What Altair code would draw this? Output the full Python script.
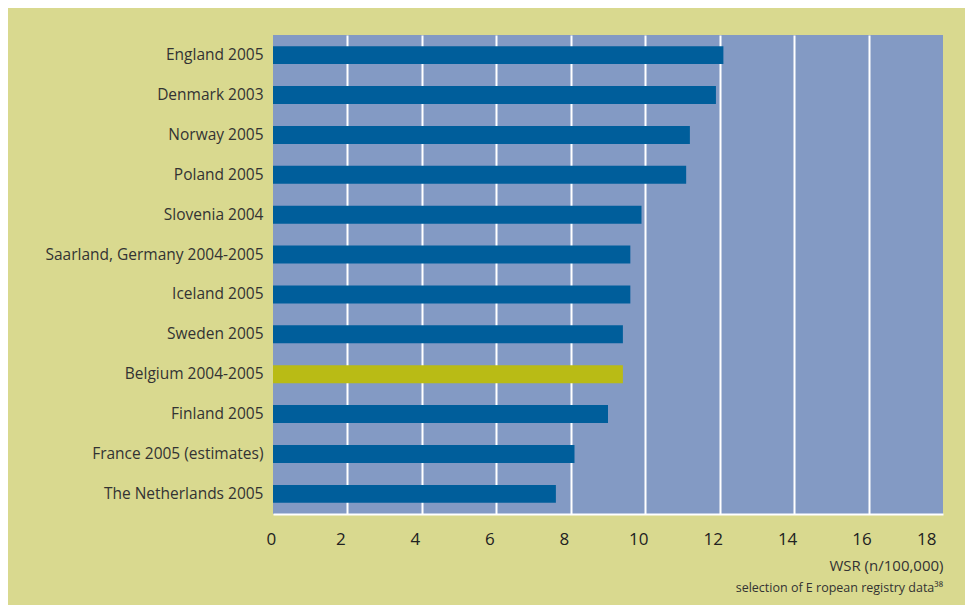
import altair as alt
import pandas as pd

countries = [
    "England 2005", "Denmark 2003", "Norway 2005", "Poland 2005", "Slovenia 2004",
    "Saarland, Germany 2004-2005", "Iceland 2005", "Sweden 2005", "Belgium 2004-2005",
    "Finland 2005", "France 2005 (estimates)", "The Netherlands 2005",
]
wsr = [12.1, 11.9, 11.2, 11.1, 9.9, 9.6, 9.6, 9.4, 9.4, 9.0, 8.1, 7.6]
highlight = ["Belgium 2004-2005"]
x_ticks = [0, 2, 4, 6, 8, 10, 12, 14, 16, 18]

df = pd.DataFrame({"country": countries, "wsr": wsr})
df["group"] = ["Belgium" if c in highlight else "Other" for c in countries]

FONT = "Open Sans"

chart = alt.Chart(df).mark_bar().encode(
    x=alt.X(
        "wsr:Q",
        scale=alt.Scale(domain=[0, 18], nice=False),
        axis=alt.Axis(
            values=x_ticks, title="WSR (n/100,000)", titleAnchor="end", titleAlign="right",
            titleFontWeight="normal", titleFontSize=15, titleColor="#333333", titleFont=FONT,
            titlePadding=11, labelFontSize=17, labelColor="#222222", labelFont=FONT,
            labelPadding=17, labelOffset=-7, ticks=False, domain=True, domainColor="#ffffff",
            domainWidth=2, grid=True, gridColor="#ffffff", gridWidth=2,
            gridOpacity=alt.condition("datum.value == 0 || datum.value == 18", alt.value(0), alt.value(1)),
        ),
    ),
    y=alt.Y(
        "country:N", sort=countries,
        scale=alt.Scale(paddingInner=0.55, paddingOuter=0.28),
        axis=alt.Axis(title=None, ticks=False, domain=False, labelFontSize=15.5, labelLimit=400,
                      labelColor="#333333", labelFont=FONT, labelPadding=10, grid=False),
    ),
    color=alt.Color("group:N", scale=alt.Scale(domain=["Other", "Belgium"],
                                               range=["#005E9B", "#B9BB15"]), legend=None),
).properties(
    width=670, height=479,
    title=alt.TitleParams("selection of E  ropean registry data\u00b3\u2078", orient="bottom",
                          anchor="end", fontSize=12.5, fontWeight="normal", color="#333333",
                          font=FONT, offset=9),
).configure(
    background="#D9D98F",
    autosize=alt.AutoSizeParams(type="none"),
    padding={"left": 265, "top": 27, "right": 22, "bottom": 95},
).configure_view(fill="#839AC4", stroke=None)

chart.save("out.html", embed_options={"renderer": "svg", "actions": False})
